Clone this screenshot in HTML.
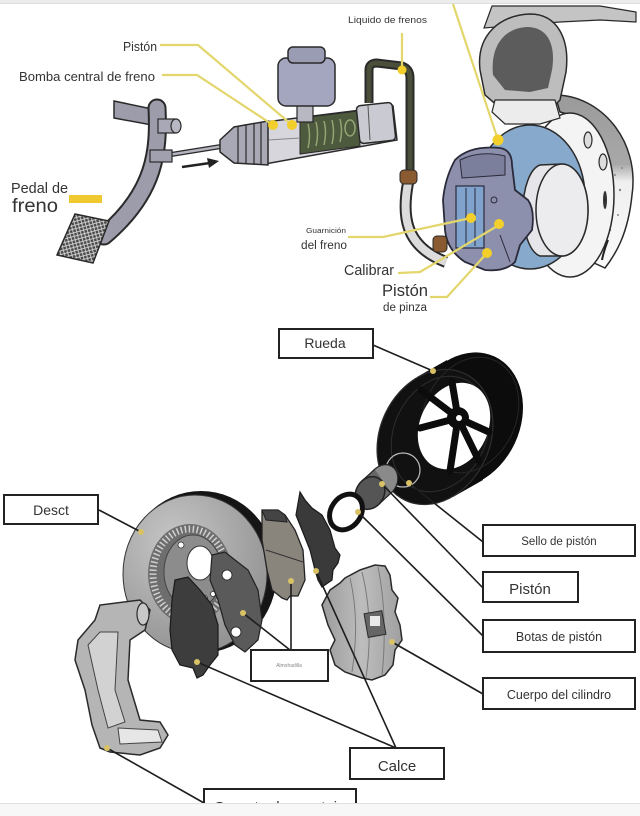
<!DOCTYPE html>
<html><head><meta charset="utf-8">
<style>
html,body{margin:0;padding:0;background:#fff;}
svg{display:block;}
text{font-family:"Liberation Sans",Arial,sans-serif;fill:#333;}
</style></head><body>
<svg width="640" height="816" viewBox="0 0 640 816" xmlns="http://www.w3.org/2000/svg">
<defs>
<pattern id="hatch" width="5" height="5" patternUnits="userSpaceOnUse" patternTransform="rotate(30)">
<rect width="5" height="5" fill="#4a4a4a"/>
<path d="M0,0 L5,5 M5,0 L0,5" stroke="#d8d8d8" stroke-width="0.9"/>
</pattern>
<linearGradient id="shield" x1="0" y1="0" x2="0" y2="1">
<stop offset="0" stop-color="#9a9a9a"/><stop offset="0.4" stop-color="#a8a8a8"/><stop offset="0.5" stop-color="#efefef"/><stop offset="1" stop-color="#fafafa"/>
</linearGradient>
<radialGradient id="disc" cx="0.35" cy="0.3" r="0.8">
<stop offset="0" stop-color="#c6c6c6"/><stop offset="1" stop-color="#8e8e8e"/>
</radialGradient>
<linearGradient id="cal" x1="0" y1="0" x2="1" y2="0">
<stop offset="0" stop-color="#9c9c9c"/><stop offset="0.5" stop-color="#bdbdbd"/><stop offset="1" stop-color="#a0a0a0"/>
</linearGradient>
</defs>
<rect width="640" height="816" fill="#fff"/>
<rect width="640" height="3" fill="#ececec"/>
<line x1="0" y1="3.5" x2="640" y2="3.5" stroke="#dcdcdc"/>

<!-- ============ TOP DIAGRAM ============ -->
<polygon points="114,101 152,109 152,125 114,118" fill="#9c9cab" stroke="#2a2a2a" stroke-width="1.5"/>
<path d="M157,108 C159,150 156,192 104,236" fill="none" stroke="#2a2a2a" stroke-width="19" stroke-linecap="round"/>
<path d="M157,108 C159,150 156,192 104,236" fill="none" stroke="#9c9cab" stroke-width="15" stroke-linecap="round"/>
<rect x="158" y="119" width="18" height="14" fill="#a8a8b6" stroke="#2a2a2a" stroke-width="1.2"/>
<ellipse cx="176" cy="126" rx="5" ry="7" fill="#b8b8c4" stroke="#2a2a2a" stroke-width="1.2"/>
<polygon points="75,214 109,221 93,263 57,255" fill="url(#hatch)" stroke="#2a2a2a" stroke-width="1.5"/>
<line x1="168" y1="155" x2="224" y2="146" stroke="#2a2a2a" stroke-width="5"/>
<line x1="168" y1="155" x2="224" y2="146" stroke="#b4b4be" stroke-width="2.5"/>
<rect x="150" y="150" width="22" height="12" fill="#a0a0ae" stroke="#2a2a2a" stroke-width="1.2"/>
<line x1="182" y1="167" x2="210" y2="163" stroke="#222" stroke-width="2.5"/>
<polygon points="219,161 207,158 209,168" fill="#222"/>
<polygon points="265,122 393,106 397,140 265,164" fill="#d6d6dc" stroke="#2a2a2a" stroke-width="1.5"/>
<polygon points="300,118 358,111 360,146 300,154" fill="#4d5a3d" stroke="#2a2a2a" stroke-width="1"/>
<path d="M308,124 q3,12 0,24 M316,122 q3,12 0,24 M324,121 q3,12 0,24 M332,120 q3,12 0,24 M340,119 q3,12 0,23" fill="none" stroke="#93a574" stroke-width="1.5"/>
<ellipse cx="350" cy="128" rx="5" ry="8" fill="none" stroke="#93a574" stroke-width="1.5"/>
<rect x="358" y="104" width="36" height="38" rx="4" fill="#cacad2" stroke="#2a2a2a" stroke-width="1.5" transform="rotate(-6 376 123)"/>
<line x1="368" y1="106" x2="370" y2="140" stroke="#555" stroke-width="1"/>
<line x1="268" y1="140" x2="300" y2="138" stroke="#888" stroke-width="1"/>
<path d="M220,140 L234,127 L268,121 L268,165 L234,163 L220,152 Z" fill="#a9a9b5" stroke="#2a2a2a" stroke-width="1.5"/>
<path d="M238,126 L238,163 M246,124 L246,164 M254,123 L254,164 M261,122 L261,165" stroke="#2a2a2a" stroke-width="1.2"/>
<rect x="297" y="104" width="16" height="18" fill="#b8b8c2" stroke="#2a2a2a" stroke-width="1.2"/>
<rect x="278" y="58" width="57" height="48" rx="8" fill="#a4a6c0" stroke="#2a2a2a" stroke-width="1.5"/>
<rect x="288" y="47" width="37" height="16" rx="5" fill="#9a9cb4" stroke="#2a2a2a" stroke-width="1.5"/>
<path d="M369,103 L369,70 Q369,63 377,63 L402,66 Q410,69 410,78 L410,172" fill="none" stroke="#2a2a2a" stroke-width="9"/>
<path d="M369,103 L369,70 Q369,63 377,63 L402,66 Q410,69 410,78 L410,172" fill="none" stroke="#4a4f3a" stroke-width="5"/>
<path d="M408,183 C402,215 404,246 446,262" fill="none" stroke="#2a2a2a" stroke-width="12"/>
<path d="M408,183 C402,215 404,246 446,262" fill="none" stroke="#dcdcdc" stroke-width="8"/>
<rect x="400" y="170" width="17" height="14" rx="4" fill="#8a5a30" stroke="#2a2a2a" stroke-width="1"/>

<path d="M484,28 L492,6 L600,6 L636,12 L636,22 L600,20 L560,22 L520,25 Z" fill="#c4c4c4" stroke="#2a2a2a" stroke-width="1.2"/>
<path d="M555,95 C600,95 640,140 632,195 C628,235 615,255 605,268 L592,262 C605,240 615,210 612,180 C608,140 585,118 560,112 Z" fill="url(#shield)" stroke="#2a2a2a" stroke-width="1.5"/>
<g fill="#888"><circle cx="615" cy="175" r="1"/><circle cx="620" cy="190" r="1.2"/><circle cx="612" cy="205" r="1"/><circle cx="618" cy="215" r="1"/><circle cx="610" cy="230" r="1.2"/><circle cx="605" cy="240" r="1"/><circle cx="622" cy="168" r="1"/></g>
<path d="M608,240 q-4,10 -6,20" stroke="#222" stroke-width="2" fill="none"/>
<ellipse cx="570" cy="195" rx="44" ry="82" fill="#f4f4f4" stroke="#2a2a2a" stroke-width="1.5"/>
<ellipse cx="588" cy="140" rx="4" ry="8" fill="#ddd" stroke="#2a2a2a" stroke-width="1.2"/>
<ellipse cx="603" cy="162" rx="4" ry="8" fill="#ddd" stroke="#2a2a2a" stroke-width="1.2"/>
<ellipse cx="605" cy="200" rx="2" ry="9" fill="#333"/>
<path d="M480,70 C476,35 500,15 530,14 C558,14 570,40 566,72 L560,100 L548,112 L510,114 L500,108 L485,95 Z" fill="#bdbdbd" stroke="#2a2a2a" stroke-width="1.5"/>
<path d="M493,75 C490,45 505,28 527,27 C548,27 556,45 552,70 L548,88 L530,92 L505,90 Z" fill="#5c5c5c"/>
<path d="M495,100 L555,100 L560,118 L540,124 L505,124 L492,112 Z" fill="#ececec" stroke="#2a2a2a" stroke-width="1.2"/>
<ellipse cx="530" cy="197" rx="55" ry="72" fill="#86a9cc" stroke="#2a2a2a" stroke-width="1.5"/>
<path d="M540,165 L562,164 A26,46 0 0 1 562,256 L540,256 A20,46 0 0 1 540,165 Z" fill="#e6e6ea" stroke="#2a2a2a" stroke-width="1.5"/>
<ellipse cx="562" cy="210" rx="26" ry="46" fill="#ececef" stroke="#2a2a2a" stroke-width="1.5"/>
<path d="M455,160 Q470,145 500,148 Q512,150 512,165 L515,190 L528,200 Q535,210 532,230 L520,245 L515,262 Q505,272 485,270 L465,262 Q447,250 445,230 L443,200 Q445,178 455,160 Z" fill="#8d90ac" stroke="#2a2a3a" stroke-width="1.8"/>
<path d="M460,160 Q480,150 505,156 L505,175 L462,178 Z" fill="#7c7f9c" stroke="#2a2a3a" stroke-width="1"/>
<rect x="456" y="186" width="28" height="62" fill="#7fa3cc" stroke="#2a2a3a" stroke-width="1.2"/>
<line x1="466" y1="188" x2="466" y2="246" stroke="#2a2a3a" stroke-width="1"/>
<line x1="475" y1="188" x2="475" y2="246" stroke="#2a2a3a" stroke-width="1"/>
<circle cx="494" cy="200" r="3" fill="none" stroke="#2a2a3a" stroke-width="1"/>
<path d="M500,235 L510,262" stroke="#2a2a3a" stroke-width="1"/>
<rect x="433" y="236" width="14" height="16" rx="4" fill="#8a5a30" stroke="#2a2a2a" stroke-width="1"/>

<g fill="none" stroke="#e3d66c" stroke-width="2.2">
<polyline points="160,45 198,45 292,125"/>
<polyline points="162,75 197,75 273,125"/>
<line x1="402" y1="33" x2="402" y2="70"/>
<line x1="453" y1="4" x2="498" y2="140"/>
<polyline points="348,237 383,237 471,218"/>
<polyline points="398,273 420,272 499,225"/>
<polyline points="430,297 447,297 487,253"/>
</g>
<g fill="#f2cf2a">
<circle cx="292" cy="125" r="5"/><circle cx="273" cy="125" r="5"/><circle cx="402" cy="70" r="4.5"/>
<circle cx="498" cy="140" r="5.5"/><circle cx="471" cy="218" r="5"/><circle cx="499" cy="224" r="5"/><circle cx="487" cy="253" r="5"/>
</g>
<rect x="69" y="195" width="33" height="8" fill="#f0c830"/>

<text x="123" y="51" font-size="12.5" textLength="34" lengthAdjust="spacingAndGlyphs">Pistón</text>
<text x="19" y="81" font-size="12.5" textLength="136" lengthAdjust="spacingAndGlyphs">Bomba central de freno</text>
<text x="11" y="193" font-size="15" textLength="57" lengthAdjust="spacingAndGlyphs">Pedal de</text>
<text x="12" y="212" font-size="19" textLength="46" lengthAdjust="spacingAndGlyphs">freno</text>
<text x="348" y="23" font-size="9.5" textLength="79" lengthAdjust="spacingAndGlyphs">Liquido de frenos</text>
<text x="306" y="233" font-size="7" textLength="40" lengthAdjust="spacingAndGlyphs">Guarnición</text>
<text x="301" y="249" font-size="11.5" textLength="46" lengthAdjust="spacingAndGlyphs">del freno</text>
<text x="344" y="275" font-size="15" textLength="50" lengthAdjust="spacingAndGlyphs">Calibrar</text>
<text x="382" y="296" font-size="17" textLength="46" lengthAdjust="spacingAndGlyphs">Pistón</text>
<text x="383" y="311" font-size="11.5" textLength="44" lengthAdjust="spacingAndGlyphs">de pinza</text>

<!-- ============ BOTTOM DIAGRAM ============ -->
<!-- wheel -->
<ellipse cx="465" cy="420" rx="55" ry="70" transform="rotate(25 465 420)" fill="#0c0c0c"/>
<polygon points="453,497 483,480 447,360 417,377" fill="#0c0c0c"/>
<ellipse cx="435" cy="437" rx="55" ry="70" transform="rotate(25 435 437)" fill="#111" stroke="#2e2e2e" stroke-width="1.2"/>
<ellipse cx="440" cy="434" rx="46" ry="60" transform="rotate(25 440 434)" fill="none" stroke="#2e2e2e" stroke-width="1"/>
<ellipse cx="470" cy="415" rx="46" ry="60" transform="rotate(25 470 415)" fill="none" stroke="#262626" stroke-width="1"/>
<ellipse cx="454" cy="426" rx="34" ry="45" transform="rotate(25 454 426)" fill="#fff"/>
<g stroke="#0c0c0c" stroke-width="7" stroke-linecap="round">
<line x1="458" y1="418" x2="421" y2="390"/><line x1="458" y1="418" x2="452" y2="382"/>
<line x1="458" y1="418" x2="489" y2="432"/><line x1="458" y1="418" x2="479" y2="461"/>
<line x1="458" y1="418" x2="450" y2="471"/><line x1="458" y1="418" x2="420" y2="428"/>
</g>
<circle cx="458" cy="418" r="11" fill="#0c0c0c"/>
<circle cx="459" cy="418" r="3" fill="#fff"/>
<circle cx="403" cy="470" r="17" fill="none" stroke="#bdbdbd" stroke-width="1.2"/>
<!-- piston -->
<ellipse cx="383" cy="481" rx="14" ry="17" transform="rotate(30 383 481)" fill="#8a8a8a" stroke="#222" stroke-width="1.2"/>
<polygon points="378.4,504.7 391.4,492.7 374.6,469.3 361.6,481.3" fill="#666"/>
<line x1="378.4" y1="504.7" x2="391.4" y2="492.7" stroke="#222" stroke-width="1.2"/>
<line x1="374.6" y1="469.3" x2="361.6" y2="481.3" stroke="#222" stroke-width="1.2"/>
<ellipse cx="370" cy="493" rx="14" ry="17" transform="rotate(30 370 493)" fill="#555" stroke="#222" stroke-width="1.5"/>
<!-- seal ring -->
<ellipse cx="346" cy="512" rx="15" ry="19" transform="rotate(35 346 512)" fill="#fff" stroke="#111" stroke-width="5"/>
<!-- disc -->
<ellipse cx="201" cy="572" rx="76" ry="81" fill="#151515"/>
<ellipse cx="195" cy="574" rx="72" ry="79" fill="url(#disc)" stroke="#333" stroke-width="1"/>
<ellipse cx="190" cy="574" rx="42" ry="50" fill="#6e6e6e"/>
<ellipse cx="190" cy="574" rx="37" ry="45" fill="none" stroke="#d0d0d0" stroke-width="7" stroke-dasharray="1.5 2.5"/>
<ellipse cx="193" cy="572" rx="29" ry="37" fill="#8c8c8c" stroke="#444" stroke-width="1"/>
<ellipse cx="200" cy="563" rx="13" ry="17" fill="#fff" stroke="#333" stroke-width="1"/>
<circle cx="181" cy="545" r="3" fill="#fff" stroke="#333" stroke-width="0.8"/>
<circle cx="205" cy="598" r="2.5" fill="#fff" stroke="#333" stroke-width="0.8"/>
<circle cx="213" cy="594" r="2.5" fill="#fff" stroke="#333" stroke-width="0.8"/>
<!-- back pad plate -->
<path d="M212,555 L225,552 L235,560 L248,570 L258,590 L262,620 L258,640 L245,652 L235,645 L225,625 L218,600 L210,580 Z" fill="#5a5a5a" stroke="#222" stroke-width="1.2"/>
<circle cx="227" cy="575" r="5" fill="#fff" stroke="#222" stroke-width="0.8"/>
<circle cx="236" cy="632" r="5" fill="#fff" stroke="#222" stroke-width="0.8"/>
<!-- front dark pad -->
<path d="M175,580 L188,577 L200,590 L212,605 L218,625 L218,655 L210,665 L203,675 L197,678 L193,668 L180,665 L172,650 L170,630 L172,600 Z" fill="#3d3d3d" stroke="#1a1a1a" stroke-width="1.2"/>
<!-- friction pad -->
<path d="M262,510 L278,510 L285,515 L295,530 L303,550 L305,580 L298,596 L290,596 L287,600 L282,598 L272,590 L267,570 L262,540 Z" fill="#8a857c" stroke="#222" stroke-width="1.3"/>
<path d="M262,510 L278,510 L285,515 L287,522 L266,520 Z" fill="#444" stroke="#222" stroke-width="1"/>
<line x1="266" y1="550" x2="303" y2="562" stroke="#333" stroke-width="1"/>
<!-- shim -->
<path d="M300,492 L305,500 L312,508 L322,515 L330,530 L335,548 L340,555 L338,563 L333,570 L332,580 L322,587 L318,580 L315,570 L310,550 L302,530 L296,515 Z" fill="#3a3a3a" stroke="#1a1a1a" stroke-width="1.2"/>
<!-- caliper body -->
<path d="M330,590 L340,583 L345,578 L360,570 L375,565 L385,566 L390,575 L392,590 L398,598 L395,612 L400,625 L402,640 L395,650 L393,665 L385,675 L372,680 L362,678 L345,672 L335,665 L330,650 L335,640 L328,625 L322,605 Z" fill="url(#cal)" stroke="#2a2a2a" stroke-width="1.5"/>
<path d="M350,578 Q360,620 352,672 M362,572 Q374,620 366,678 M378,567 Q388,615 382,676" fill="none" stroke="#7a7a7a" stroke-width="1"/>
<rect x="366" y="612" width="18" height="24" fill="#666" stroke="#2a2a2a" stroke-width="1" transform="rotate(-10 375 624)"/>
<rect x="370" y="616" width="10" height="10" fill="#e8e8e8"/>
<!-- mounting bracket -->
<path d="M78,640 L95,620 L100,605 L140,600 L150,610 L145,630 L130,640 L128,680 L140,720 L160,722 L168,735 L160,748 L140,755 L110,752 L100,748 L92,725 L85,690 L75,660 Z" fill="#b5b5b5" stroke="#2a2a2a" stroke-width="1.5"/>
<path d="M88,645 L100,632 L118,632 L115,690 L125,722 L108,728 L98,690 Z" fill="#d2d2d2" stroke="#444" stroke-width="1"/>
<ellipse cx="143" cy="614" rx="6" ry="11" fill="#c8c8c8" stroke="#2a2a2a" stroke-width="1.2"/>
<path d="M118,728 L158,730 L162,742 L120,744 Z" fill="#e6e6e6" stroke="#444" stroke-width="1"/>

<!-- connectors -->
<g stroke="#1e1e1e" stroke-width="1.6" fill="none">
<line x1="373" y1="345" x2="433" y2="371"/>
<line x1="99" y1="510" x2="141" y2="532"/>
<line x1="409" y1="483" x2="483" y2="542"/>
<line x1="382" y1="484" x2="483" y2="588"/>
<line x1="358" y1="512" x2="483" y2="636"/>
<line x1="392" y1="642" x2="483" y2="694"/>
<line x1="243" y1="613" x2="290" y2="650"/>
<line x1="291" y1="581" x2="291" y2="650"/>
<line x1="197" y1="662" x2="396" y2="748"/>
<line x1="316" y1="571" x2="396" y2="748"/>
<line x1="107" y1="748" x2="204" y2="803"/>
</g>
<g fill="#d9c265">
<circle cx="433" cy="371" r="3"/><circle cx="141" cy="532" r="3"/><circle cx="409" cy="483" r="3"/>
<circle cx="382" cy="484" r="3"/><circle cx="358" cy="512" r="3"/><circle cx="392" cy="642" r="3"/>
<circle cx="243" cy="613" r="3"/><circle cx="291" cy="581" r="3"/><circle cx="197" cy="662" r="3"/>
<circle cx="316" cy="571" r="3"/><circle cx="107" cy="748" r="3"/>
</g>

<!-- boxes -->
<g fill="#fff" stroke="#222" stroke-width="2">
<rect x="279" y="329" width="94" height="29"/>
<rect x="4" y="495" width="94" height="29"/>
<rect x="483" y="525" width="152" height="31"/>
<rect x="483" y="572" width="95" height="30"/>
<rect x="483" y="620" width="152" height="32"/>
<rect x="483" y="678" width="152" height="31"/>
<rect x="251" y="650" width="77" height="31"/>
<rect x="350" y="748" width="94" height="31"/>
<rect x="204" y="789" width="152" height="30"/>
</g>
<text x="325" y="348" font-size="14" text-anchor="middle">Rueda</text>
<text x="51" y="515" font-size="14" text-anchor="middle">Desct</text>
<text x="559" y="545" font-size="11.5" text-anchor="middle">Sello de pistón</text>
<text x="530" y="594" font-size="15" text-anchor="middle">Pistón</text>
<text x="559" y="641" font-size="12.5" text-anchor="middle">Botas de pistón</text>
<text x="559" y="699" font-size="12.5" text-anchor="middle">Cuerpo del cilindro</text>
<text x="289" y="667" font-size="5" text-anchor="middle" style="fill:#888">Almohadilla</text>
<text x="397" y="771" font-size="15" text-anchor="middle">Calce</text>
<text x="280" y="812" font-size="15" text-anchor="middle">Soporte de montaje</text>

<rect x="0" y="803" width="640" height="13" fill="#f7f7f7"/>
<line x1="0" y1="803.5" x2="640" y2="803.5" stroke="#e0e0e0"/>
</svg>
</body></html>
